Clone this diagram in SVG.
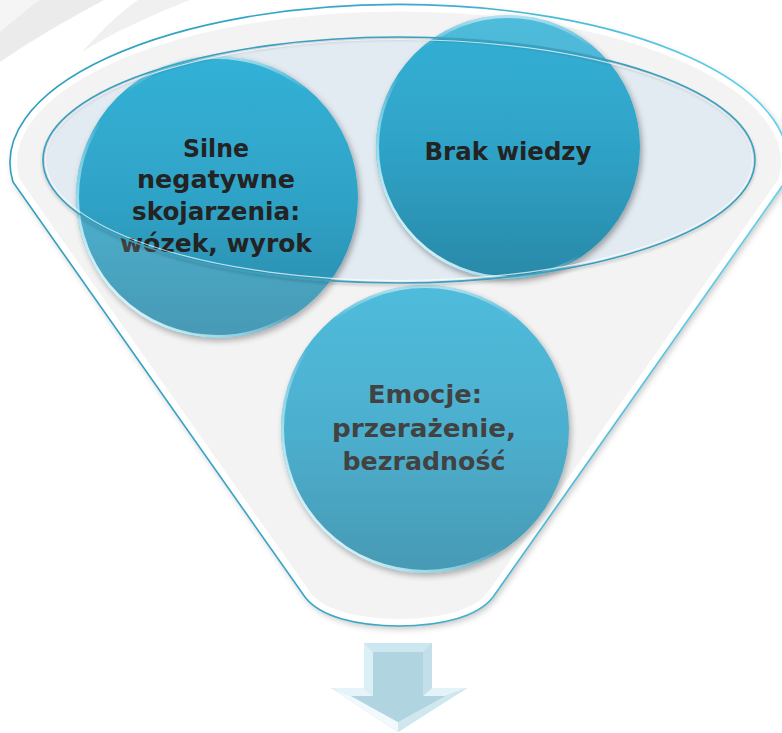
<svg xmlns="http://www.w3.org/2000/svg" width="782" height="733" viewBox="0 0 782 733">
  <defs>
    <style>
      .lbl { font-family: "DejaVu Sans", "Liberation Sans", sans-serif; font-weight: bold; font-size: 25px; fill: #232323; text-anchor: middle; }
      .ball { fill: url(#ballGrad); filter: url(#ballShadow); }
      .rimHi { fill: none; stroke: url(#rimHiGrad); stroke-width: 3; }
      .rimTop { fill: none; stroke: url(#rimTopGrad); stroke-width: 3; }
      .facet { stroke: none; }
    </style>
    <linearGradient id="ballGrad" x1="0" y1="0" x2="0" y2="1">
      <stop offset="0" stop-color="#33b1d6"/>
      <stop offset="0.5" stop-color="#2fa3c7"/>
      <stop offset="1" stop-color="#2a89a8"/>
    </linearGradient>
    <linearGradient id="rimHiGrad" x1="0.1" y1="0.9" x2="0.7" y2="0.3">
      <stop offset="0" stop-color="#ffffff" stop-opacity="0.95"/>
      <stop offset="0.3" stop-color="#a5eaf7" stop-opacity="0.7"/>
      <stop offset="0.55" stop-color="#ffffff" stop-opacity="0"/>
    </linearGradient>
    <linearGradient id="rimTopGrad" x1="0" y1="0" x2="0" y2="1">
      <stop offset="0" stop-color="#ffffff" stop-opacity="0.55"/>
      <stop offset="0.12" stop-color="#ffffff" stop-opacity="0"/>
    </linearGradient>
    <linearGradient id="outerStroke" gradientUnits="userSpaceOnUse" x1="0" y1="0" x2="782" y2="0">
      <stop offset="0" stop-color="#2e9ebf"/>
      <stop offset="0.5" stop-color="#3aa9c8"/>
      <stop offset="1" stop-color="#5fd3ee"/>
    </linearGradient>
    <filter id="ballShadow" x="-20%" y="-20%" width="140%" height="140%">
      <feDropShadow dx="2" dy="3" stdDeviation="3" flood-color="#000000" flood-opacity="0.35"/>
    </filter>
    <filter id="funnelShadow" x="-10%" y="-10%" width="120%" height="120%">
      <feDropShadow dx="2" dy="3" stdDeviation="3" flood-color="#000000" flood-opacity="0.22"/>
    </filter>
    <filter id="lineShadow" x="-10%" y="-10%" width="120%" height="130%">
      <feDropShadow dx="0" dy="2" stdDeviation="1.5" flood-color="#000000" flood-opacity="0.25"/>
    </filter>
    <clipPath id="funnelClip">
      <path d="M 13,182 A 389 158 0 1 1 785,182 L 493,597 C 478,617 440,626 399,626 C 358,626 320,617 305,597 Z"/>
    </clipPath>
  </defs>

  <!-- slide background swooshes -->
  <g id="background">
    <rect x="0" y="0" width="782" height="733" fill="#ffffff"/>
    <path d="M0,0 L104,0 C70,18 32,40 0,62 Z" fill="#ebebeb"/>
    <path d="M0,0 L40,0 C26,10 12,22 0,32 Z" fill="#f5f5f5"/>
    <path d="M138,0 L190,0 C150,16 110,34 82,52 C100,32 118,14 138,0 Z" fill="#f0f0f0"/>
  </g>

  <!-- funnel body -->
  <g id="funnel">
    <path d="M 13,182 A 389 158 0 1 1 785,182 L 493,597 C 478,617 440,626 399,626 C 358,626 320,617 305,597 Z" fill="#f2f2f2" filter="url(#funnelShadow)"/>
    <path d="M 13,182 A 389 158 0 1 1 785,182 L 493,597 C 478,617 440,626 399,626 C 358,626 320,617 305,597 Z" fill="none" stroke="#ffffff" stroke-width="14" clip-path="url(#funnelClip)"/>
    <ellipse cx="399" cy="160" rx="356" ry="123" fill="#e3ebf2"/>
  </g>

  <!-- nodes -->
  <g id="node-1">
    <circle class="ball" cx="217" cy="197" r="141"/>
    <circle class="rimTop" cx="217" cy="197" r="139.5"/>
    <circle class="rimHi" cx="217" cy="197" r="139.5"/>
    <text class="lbl" x="216" y="157" textLength="66" lengthAdjust="spacingAndGlyphs">Silne</text>
    <text class="lbl" x="216" y="188" textLength="158" lengthAdjust="spacingAndGlyphs">negatywne</text>
    <text class="lbl" x="216" y="220" textLength="168" lengthAdjust="spacingAndGlyphs">skojarzenia:</text>
    <text class="lbl" x="216" y="252" textLength="192" lengthAdjust="spacingAndGlyphs">wózek, wyrok</text>
  </g>
  <g id="node-2">
    <circle class="ball" cx="508" cy="147" r="132"/>
    <circle class="rimTop" cx="508" cy="147" r="130.5"/>
    <circle class="rimHi" cx="508" cy="147" r="130.5"/>
    <text class="lbl" x="508" y="160" textLength="167" lengthAdjust="spacingAndGlyphs">Brak wiedzy</text>
  </g>
  <g id="node-3">
    <circle class="ball" cx="425" cy="429" r="144"/>
    <circle class="rimTop" cx="425" cy="429" r="142.5"/>
    <circle class="rimHi" cx="425" cy="429" r="142.5"/>
    <text class="lbl" x="425" y="403" textLength="114" lengthAdjust="spacingAndGlyphs">Emocje:</text>
    <text class="lbl" x="424" y="437" textLength="184" lengthAdjust="spacingAndGlyphs">przerażenie,</text>
    <text class="lbl" x="424" y="470" textLength="163" lengthAdjust="spacingAndGlyphs">bezradność</text>
  </g>

  <!-- translucent front of funnel over the nodes -->
  <g id="funnel-front">
    <path fill-rule="evenodd" fill="#ffffff" fill-opacity="0.14" d="M 13,182 A 389 158 0 1 1 785,182 L 493,597 C 478,617 440,626 399,626 C 358,626 320,617 305,597 Z M 43,160 A 356 123 0 1 0 755,160 A 356 123 0 1 0 43,160 Z"/>
    <ellipse cx="399" cy="160" rx="356" ry="123" fill="none" stroke="#3a9fbd" stroke-width="1.6" filter="url(#lineShadow)"/>
    <ellipse cx="399" cy="160" rx="353.5" ry="120.5" fill="none" stroke="#ffffff" stroke-opacity="0.7" stroke-width="1.2"/>
    <path d="M 13,182 A 389 158 0 1 1 785,182 L 493,597 C 478,617 440,626 399,626 C 358,626 320,617 305,597 Z" fill="none" stroke="url(#outerStroke)" stroke-width="1.6"/>
  </g>

  <!-- output arrow -->
  <g id="connectors">
    <g id="arrow-down">
      <polygon class="facet" points="364,643 432,643 432,688 467,688 398,732 331,688 364,688" fill="#bcdde9"/>
      <polygon class="facet" points="364,643 432,643 423,652 373,652" fill="#cde7f0"/>
      <polygon class="facet" points="432,643 432,688 423,696 423,652" fill="#c2dfea"/>
      <polygon class="facet" points="432,688 467,688 445,696 423,696" fill="#e3f3f8"/>
      <polygon class="facet" points="467,688 398,732 398,722 445,696" fill="#cfe7ef"/>
      <polygon class="facet" points="398,732 331,688 351,696 398,722" fill="#f0f9fc"/>
      <polygon class="facet" points="331,688 364,688 373,696 351,696" fill="#e6f4f9"/>
      <polygon class="facet" points="364,688 364,643 373,652 373,696" fill="#dbf0f6"/>
      <polygon class="facet" points="373,652 423,652 423,696 445,696 398,722 351,696 373,696" fill="#b1d4e1"/>
    </g>
  </g>
</svg>
